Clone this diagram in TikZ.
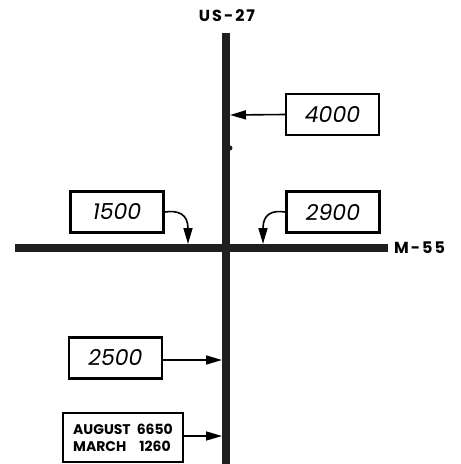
\documentclass[tikz,border=0pt]{standalone}
\usepackage{fontspec}
\setmainfont{Poppins}
\usetikzlibrary{arrows.meta}
\tikzset{
  road/.style={line width=8pt, draw=black!88, line cap=butt},
  countbox/.style={draw=black, line width=2.4pt, minimum width=93pt, minimum height=41pt, inner sep=0pt, font=\fontsize{22}{24}\selectfont\itshape},
  datebox/.style={draw=black, line width=2.4pt, minimum width=120pt, minimum height=49pt, inner sep=2pt, font=\fontsize{14}{17}\selectfont\bfseries, align=left},
  feed/.style={line width=1.6pt, -{Triangle[length=16pt,width=9pt]}},
  roadlabel/.style={font=\fontsize{16}{18}\selectfont\bfseries, inner sep=0pt}
}
\begin{document}
\begin{tikzpicture}[x=1pt,y=-1pt]
\useasboundingbox (0,0) rectangle (461,464);
% roads
\coordinate (vtop) at (226,33);
\coordinate (vbot) at (226,464);
\coordinate (hleft) at (15,248);
\coordinate (hright) at (388,248);
\draw[road] (vtop) -- (vbot);
\draw[road] (hleft) -- (hright);
\fill[black!88] (230,148) circle (2.5pt);
% labels
\node[roadlabel] (us) at (227,16) {U\kern2pt S\kern2pt -\kern2pt 2\kern2pt 7};
\node[roadlabel, anchor=west] (m) at (394,248) {M\kern2pt -\kern2pt 5\kern2pt 5};
% boxes
\node[countbox] (b4000) at (332.5,114.5) {4000};
\node[countbox] (b2900) at (333,212) {2900};
\node[countbox] (b1500) at (117,212) {1500};
\node[countbox] (b2500) at (115.5,358) {2500};
\node[datebox] (bdate) at (123,437.5) {AUGUST\hspace{6pt}6650\\MARCH\hspace{13pt}1260};
% targets on road
\coordinate (t4000) at (230,115);
\coordinate (t2900) at (263,244);
\coordinate (t1500) at (188,244);
\coordinate (t2500) at (222,360);
\coordinate (tdate) at (222,436);
% arrows
\draw[feed] (b4000.west) -- (t4000);
\draw[feed] (b2500.east |- t2500) -- (t2500);
\draw[feed] (bdate.east |- tdate) -- (tdate);
\draw[feed] (b1500.east) .. controls (178,210) and (188,214) .. (t1500);
\draw[feed] (b2900.west) .. controls (272,210) and (263,214) .. (t2900);
\end{tikzpicture}
\end{document}
